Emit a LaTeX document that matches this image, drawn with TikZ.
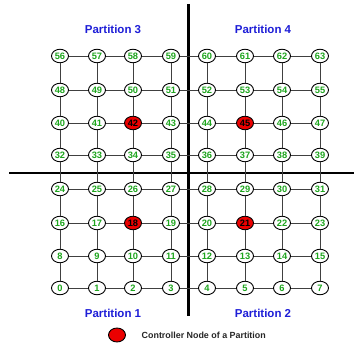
\documentclass[tikz,border=0pt]{standalone}
\usepackage{fontspec}
\setmainfont{Liberation Sans}
\usetikzlibrary{shapes.geometric}
\definecolor{numgreen}{RGB}{30,165,30}
\definecolor{partblue}{RGB}{30,30,215}
\definecolor{ctrlred}{RGB}{235,0,0}
\tikzset{
  gn/.style={ellipse, draw=black, line width=0.9pt, fill=white, minimum width=17pt,
    minimum height=13.5pt, inner sep=0pt, font=\fontsize{9.3}{10}\selectfont\bfseries, text=numgreen},
  ctrl/.style={gn, fill=ctrlred, text=black},
  gridedge/.style={draw=black!75, line width=0.9pt},
  divider/.style={draw=black, line width=2.4pt},
  plabel/.style={font=\fontsize{11.5}{13}\selectfont\bfseries, text=partblue},
  legend/.style={font=\fontsize{8.9}{10}\selectfont\bfseries, text=black!85}
}
\begin{document}
\begin{tikzpicture}[x=1pt,y=-1pt]
\useasboundingbox (0,0) rectangle (354,345);
\draw[divider] (188.3,4) -- (188.3,315.7);
\draw[divider] (9,173.3) -- (354,173.3);
\foreach \r/\yy in {0/288,1/256,2/223,3/189,4/155,5/123,6/90,7/56}{
  \foreach \c/\xx in {0/60,1/97,2/133,3/171,4/207,5/245,6/282,7/320}{
    \pgfmathtruncatemacro\id{8*\r+\c}
    \ifnum\id=18 \node[ctrl] (n\id) at (\xx,\yy) {\id};
    \else\ifnum\id=21 \node[ctrl] (n\id) at (\xx,\yy) {\id};
    \else\ifnum\id=42 \node[ctrl] (n\id) at (\xx,\yy) {\id};
    \else\ifnum\id=45 \node[ctrl] (n\id) at (\xx,\yy) {\id};
    \else \node[gn] (n\id) at (\xx,\yy) {\id};
    \fi\fi\fi\fi
  }
}
\foreach \r in {0,...,7}{
  \foreach \c in {0,...,6}{
    \pgfmathtruncatemacro\a{8*\r+\c}
    \pgfmathtruncatemacro\b{8*\r+\c+1}
    \draw[gridedge] (n\a) -- (n\b);
  }
}
\foreach \r in {0,...,6}{
  \foreach \c in {0,...,7}{
    \pgfmathtruncatemacro\a{8*\r+\c}
    \pgfmathtruncatemacro\b{8*\r+\c+8}
    \draw[gridedge] (n\a) -- (n\b);
  }
}
\node[plabel] (p3) at (113,29) {Partition 3};
\node[plabel] (p4) at (263,29) {Partition 4};
\node[plabel] (p1) at (113,313) {Partition 1};
\node[plabel] (p2) at (263,313) {Partition 2};
\node[ctrl, minimum height=14pt] (leg) at (117,335) {};
\node[legend, anchor=west, inner sep=0pt] (legtxt) at (141.5,335) {Controller Node of a Partition};
\end{tikzpicture}
\end{document}
